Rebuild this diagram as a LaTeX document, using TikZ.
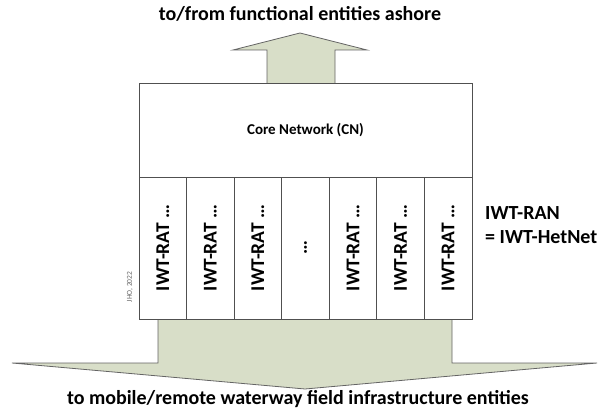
\documentclass[tikz,border=0pt]{standalone}
\usepackage{fontspec}
\setmainfont{Carlito}
\definecolor{arrfill}{RGB}{216,222,200}
\definecolor{arredge}{RGB}{100,100,100}
\definecolor{boxedge}{RGB}{80,80,80}
\begin{document}
\begin{tikzpicture}[x=1pt,y=-1pt,
  blockarrow/.style={fill=arrfill,draw=arredge,line width=0.8pt,line join=miter},
  ratcol/.style={draw=boxedge,line width=0.8pt,fill=white,minimum width=47.57pt,minimum height=142pt,inner sep=0pt,
    font=\bfseries\fontsize{19.5}{22}\selectfont},
  lbl/.style={font=\bfseries\fontsize{20}{24}\selectfont,inner sep=0pt}]
\useasboundingbox (0,0) rectangle (599,411);
% top arrow
\draw[blockarrow] (267,83) -- (267,50) -- (233,50) -- (300,33) -- (367,50) -- (335,50) -- (335,83);
% bottom arrow
\draw[blockarrow] (158,318) -- (158,363) -- (12,363) -- (305,389) -- (597,363) -- (452,363) -- (452,318);
% core network
\node[draw=boxedge,line width=0.8pt,fill=white,minimum width=333pt,minimum height=94pt,inner sep=0pt,
  font=\bfseries\fontsize{15}{18}\selectfont] (cn) at (305.5,130) {Core Network (CN)};
% RAT columns
\foreach \i/\t in {1/IWT-RAT …,2/IWT-RAT …,3/IWT-RAT …,4/…,5/IWT-RAT …,6/IWT-RAT …,7/IWT-RAT …}{
  \node[ratcol] (rat\i) at ({139+47.57*(\i-0.5)},248) {\rotatebox{90}{\t}};
}
\node[lbl] (top) at (300,14) {to/from functional entities ashore};
\node[lbl] (bot) at (298,399) {to mobile/remote waterway field infrastructure entities};
\node[lbl,anchor=west,align=left] (ran) at (485,225) {IWT-RAN\\= IWT-HetNet};
\node[font=\fontsize{7.5}{8}\selectfont,text=black!60,inner sep=0pt,rotate=90] (jho) at (130,287) {JHO, 2022};
\end{tikzpicture}
\end{document}
